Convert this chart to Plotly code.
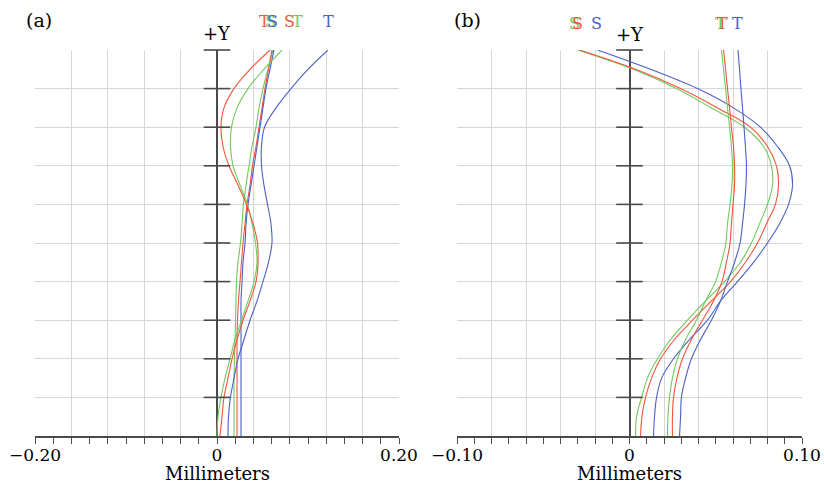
import plotly.graph_objects as go

# ---------------- data ----------------
# relative field height (+Y), top to bottom
field = [1.0, 0.95, 0.9, 0.85, 0.8, 0.75, 0.7, 0.65, 0.6, 0.55, 0.5,
         0.45, 0.4, 0.35, 0.3, 0.25, 0.2, 0.15, 0.1, 0.05, 0.0]

# panel (a) field curvature, mm
a_red_T = [0.0582, 0.0363, 0.0187, 0.0077, 0.0044, 0.0066, 0.0132, 0.0231, 0.0324, 0.0396, 0.0445,
           0.0451, 0.0429, 0.0363, 0.0286, 0.0220, 0.0165, 0.0121, 0.0077, 0.0055, 0.0033]
a_green_T = [0.0714, 0.0516, 0.0341, 0.0220, 0.0159, 0.0148, 0.0176, 0.0253, 0.0335, 0.0385, 0.0423,
             0.0440, 0.0407, 0.0341, 0.0269, 0.0198, 0.0143, 0.0088, 0.0044, 0.0011, 0.0000]
a_blue_T = [0.1220, 0.1000, 0.0813, 0.0648, 0.0522, 0.0489, 0.0489, 0.0516, 0.0555, 0.0593, 0.0604,
            0.0566, 0.0505, 0.0440, 0.0363, 0.0297, 0.0231, 0.0187, 0.0148, 0.0126, 0.0121]
a_green_S = [0.0615, 0.0560, 0.0505, 0.0462, 0.0429, 0.0385, 0.0352, 0.0319, 0.0291, 0.0275, 0.0258,
             0.0231, 0.0214, 0.0209, 0.0203, 0.0198, 0.0192, 0.0187, 0.0187, 0.0187, 0.0187]
a_red_S = [0.0604, 0.0566, 0.0527, 0.0495, 0.0462, 0.0429, 0.0390, 0.0363, 0.0330, 0.0308, 0.0286,
           0.0269, 0.0253, 0.0236, 0.0225, 0.0220, 0.0220, 0.0220, 0.0220, 0.0220, 0.0220]
a_blue_S = [0.0626, 0.0582, 0.0538, 0.0505, 0.0473, 0.0440, 0.0407, 0.0374, 0.0341, 0.0319, 0.0308,
            0.0286, 0.0275, 0.0264, 0.0264, 0.0264, 0.0264, 0.0264, 0.0264, 0.0264, 0.0264]

# panel (b) field curvature, mm
b_green_S = [-0.0301, 0.0023, 0.0272, 0.0475, 0.0667, 0.0777, 0.0823, 0.0829, 0.0800, 0.0754, 0.0707,
             0.0643, 0.0551, 0.0441, 0.0336, 0.0238, 0.0162, 0.0104, 0.0070, 0.0041, 0.0035]
b_red_S = [-0.0290, 0.0035, 0.0296, 0.0510, 0.0701, 0.0800, 0.0852, 0.0864, 0.0846, 0.0794, 0.0742,
           0.0672, 0.0586, 0.0475, 0.0365, 0.0261, 0.0180, 0.0128, 0.0093, 0.0072, 0.0064]
b_blue_S = [-0.0186, 0.0122, 0.0394, 0.0603, 0.0759, 0.0858, 0.0928, 0.0945, 0.0922, 0.0870, 0.0800,
            0.0719, 0.0626, 0.0528, 0.0452, 0.0348, 0.0255, 0.0186, 0.0157, 0.0145, 0.0139]
b_green_T = [0.0533, 0.0545, 0.0557, 0.0568, 0.0580, 0.0591, 0.0597, 0.0594, 0.0583, 0.0568, 0.0559,
             0.0533, 0.0499, 0.0441, 0.0388, 0.0325, 0.0278, 0.0249, 0.0232, 0.0223, 0.0220]
b_red_T = [0.0545, 0.0557, 0.0568, 0.0580, 0.0591, 0.0603, 0.0609, 0.0609, 0.0600, 0.0591, 0.0583,
           0.0562, 0.0536, 0.0487, 0.0423, 0.0359, 0.0307, 0.0275, 0.0255, 0.0249, 0.0249]
b_blue_T = [0.0629, 0.0638, 0.0646, 0.0655, 0.0664, 0.0672, 0.0678, 0.0675, 0.0667, 0.0655, 0.0641,
            0.0609, 0.0568, 0.0528, 0.0475, 0.0412, 0.0359, 0.0325, 0.0301, 0.0296, 0.0290]

# axis ticks / labels
a_tickvals = [-0.20, -0.16, -0.12, -0.08, -0.04, 0.0, 0.04, 0.08, 0.12, 0.16, 0.20]
a_ticktext = ["\u22120.20", "", "", "", "", "0", "", "", "", "", "0.20"]
b_tickvals = [-0.10, -0.08, -0.06, -0.04, -0.02, 0.0, 0.02, 0.04, 0.06, 0.08, 0.10]
b_ticktext = ["\u22120.10", "", "", "", "", "0", "", "", "", "", "0.10"]
y_ticks = [0.1, 0.2, 0.3, 0.4, 0.5, 0.6, 0.7, 0.8, 0.9, 1.0]

# legend label positions (x in mm) for each panel
a_labels = [("T", 0.0527, "red"), ("S", 0.0593, "green"), ("S", 0.0615, "blue"),
            ("S", 0.0802, "red"), ("T", 0.0890, "green"), ("T", 0.1220, "blue")]
b_labels = [("S", -0.0319, "green"), ("S", -0.0301, "red"), ("S", -0.0191, "blue"),
            ("T", 0.0528, "green"), ("T", 0.0539, "red"), ("T", 0.0626, "blue")]

COL = {"red": "#f2553a", "green": "#72c95e", "blue": "#4b61c4"}
AX = "#4a4a4a"
GRID = "#d6d6d6"
FONT = "DejaVu Serif"

# plot area in pixels
L, R, T, B = 35, 802, 50, 436
W, H = R - L, B - T

def px(x):
    return (x - L) / W

def py(y):
    return (B - y) / H

fig = go.Figure()

def add_curve(xs, color, xa, ya):
    fig.add_trace(go.Scatter(x=xs, y=field, mode="lines", xaxis=xa, yaxis=ya,
                             line=dict(color=COL[color], width=1.1, shape="spline", smoothing=1.0),
                             showlegend=False, hoverinfo="skip"))

for xs, c in [(a_green_S, "green"), (a_red_S, "red"), (a_blue_S, "blue"),
              (a_green_T, "green"), (a_red_T, "red"), (a_blue_T, "blue")]:
    add_curve(xs, c, "x", "y")
for xs, c in [(b_green_S, "green"), (b_red_S, "red"), (b_blue_S, "blue"),
              (b_green_T, "green"), (b_red_T, "red"), (b_blue_T, "blue")]:
    add_curve(xs, c, "x2", "y2")

# +Y axis cross ticks
for xa, ya in [("x", "y"), ("x2", "y2")]:
    fig.add_trace(go.Scatter(x=[0.0] * len(y_ticks), y=y_ticks, mode="markers", xaxis=xa, yaxis=ya,
                             marker=dict(symbol="line-ew", size=19, line=dict(color=AX, width=1.6)),
                             showlegend=False, hoverinfo="skip", cliponaxis=False))

def xaxis_cfg(domain, rng, tv, tt, minor_dt):
    return dict(domain=domain, range=rng, tickvals=tv, ticktext=tt,
                showgrid=True, gridcolor=GRID, gridwidth=1,
                zeroline=True, zerolinecolor=AX, zerolinewidth=1.6,
                showline=True, linecolor=AX, linewidth=1.6,
                ticks="outside", ticklen=6, tickcolor=AX, tickwidth=1.2,
                minor=dict(dtick=minor_dt, tick0=0, ticks="outside", ticklen=6,
                           tickcolor=AX, tickwidth=1.2, showgrid=False),
                tickfont=dict(family=FONT, size=17, color="#000"),
                ticklabelstandoff=-3,
                automargin=False, fixedrange=True)

def yaxis_cfg(anchor):
    return dict(domain=[0, 1], range=[0, 1], dtick=0.1, tick0=0,
                showticklabels=False, showgrid=True, gridcolor=GRID, gridwidth=1,
                zeroline=False, showline=False, ticks="", anchor=anchor,
                automargin=False, fixedrange=True)

fig.update_layout(
    width=824, height=485,
    margin=dict(l=L, r=824 - R, t=T, b=485 - B, pad=0, autoexpand=False),
    paper_bgcolor="white", plot_bgcolor="white",
    xaxis=dict(**xaxis_cfg([px(35), px(399)], [-0.2, 0.2], a_tickvals, a_ticktext, 0.02), anchor="y"),
    yaxis=yaxis_cfg("x"),
    xaxis2=dict(**xaxis_cfg([px(457), px(802)], [-0.1, 0.1], b_tickvals, b_ticktext, 0.01), anchor="y2"),
    yaxis2=yaxis_cfg("x2"),
    showlegend=False,
)

ann = []
def txt(text, x, y, size, color="#000", xref="paper", xanchor="center"):
    ann.append(dict(text=text, x=x, y=y, xref=xref, yref="paper", showarrow=False,
                    xanchor=xanchor, yanchor="middle",
                    font=dict(family=FONT, size=size, color=color)))

txt("(a)", px(24), py(20), 19, xanchor="left")
txt("(b)", px(452), py(20), 19, xanchor="left")
txt("+Y", 0.0, py(33), 18, xref="x")
txt("+Y", 0.0, py(34), 18, xref="x2")
txt("Millimeters", 0.0, py(474), 18, xref="x")
txt("Millimeters", 0.0, py(474), 18, xref="x2")
for lab, xv, c in a_labels:
    txt(lab, xv, py(22), 16, color=COL[c], xref="x")
for lab, xv, c in b_labels:
    txt(lab, xv, py(24), 16, color=COL[c], xref="x2")
fig.update_layout(annotations=ann)

fig.write_html("out.html", config={"displayModeBar": False},
               post_script="document.body.style.margin='0';document.body.style.overflow='hidden';")
